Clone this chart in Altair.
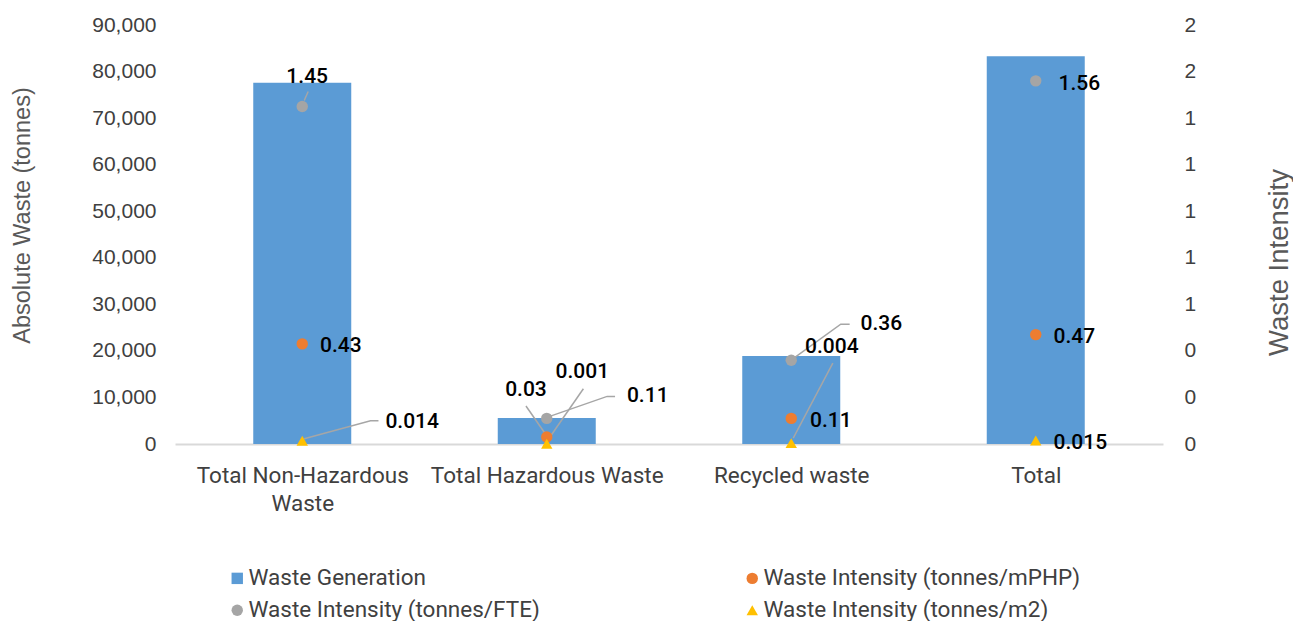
import json
import textwrap

import altair as alt
import pandas as pd

# ---- data -------------------------------------------------------------
categories = ["Total Non-Hazardous Waste", "Total Hazardous Waste", "Recycled waste", "Total"]
waste_generation = [77600, 5600, 18900, 83300]          # tonnes
intensity_mphp = [0.43, 0.03, 0.11, 0.47]               # tonnes / mPHP
intensity_fte = [1.45, 0.11, 0.36, 1.56]                # tonnes / FTE
intensity_m2 = [0.014, 0.001, 0.004, 0.015]             # tonnes / m2

S_GEN = "Waste Generation"
S_MPHP = "Waste Intensity (tonnes/mPHP)"
S_FTE = "Waste Intensity (tonnes/FTE)"
S_M2 = "Waste Intensity (tonnes/m2)"
# legend fills column by column, so this order gives rows Gen|mPHP, FTE|m2
series_order = [S_GEN, S_FTE, S_MPHP, S_M2]
series_colors = ["#5B9BD5", "#A5A5A5", "#ED7D31", "#FFC000"]
series_shapes = ["square", "circle", "circle", "triangle-up"]
series_marker_sizes = [130, 130, 130, 190]

# ---- layout -----------------------------------------------------------
PLOT_W, PLOT_H = 988, 419
X_DOMAIN = [-0.5, 3.5]
TONNE_DOMAIN = [0, 90000]
INTENSITY_DOMAIN = [0, 1.8]
PX_PER_CAT = PLOT_W / (X_DOMAIN[1] - X_DOMAIN[0])
PX_PER_UNIT = PLOT_H / (INTENSITY_DOMAIN[1] - INTENSITY_DOMAIN[0])

FONT = "Roboto"
AXIS_FONT = "Liberation Sans"
TEXT_GREY = "#404040"
TITLE_GREY = "#595959"

# data-label placement: pixel offset of the label from its point, text
# alignment, and an optional leader-line path (pixel offsets from the point)
placement = {
    (S_FTE, 0): (5, -29, "center", [(2, -6), (6, -15)]),
    (S_MPHP, 0): (18, 2, "left", []),
    (S_M2, 0): (84, -19, "left", [(2, -2), (69, -20), (77, -20)]),
    (S_MPHP, 1): (-21, -47, "center", [(-21, -31), (-2, -4)]),
    (S_M2, 1): (36, -72, "center", [(37, -55), (2, -5)]),
    (S_FTE, 1): (81, -22, "left", [(3, -2), (61, -22), (69, -22)]),
    (S_FTE, 2): (70, -36, "left", [(4, -3), (50, -36), (59, -36)]),
    (S_M2, 2): (41, -96, "center", [(42, -80), (2, -5)]),
    (S_MPHP, 2): (19, 3, "left", []),
    (S_FTE, 3): (23, 3, "left", []),
    (S_MPHP, 3): (18, 2, "left", []),
    (S_M2, 3): (18, 2, "left", []),
}

# ---- tables -----------------------------------------------------------
bars_df = pd.DataFrame({
    "idx": list(range(len(categories))),
    "category": categories,
    "tonnes": waste_generation,
    "series": S_GEN,
})

point_rows, label_rows, leader_rows = [], [], []
for name, values in [(S_MPHP, intensity_mphp), (S_FTE, intensity_fte), (S_M2, intensity_m2)]:
    for i, v in enumerate(values):
        point_rows.append({"idx": i, "series": name, "value": v})
        dx, dy, align, path = placement[(name, i)]
        label_rows.append({
            "lx": i + dx / PX_PER_CAT,
            "ly": v - dy / PX_PER_UNIT,
            "text": f"{v:g}",
            "align": align,
        })
        for step, (px, py) in enumerate(path):
            leader_rows.append({
                "leader": f"{name}-{i}",
                "step": step,
                "lx": i + px / PX_PER_CAT,
                "ly": v - py / PX_PER_UNIT,
            })

points_df = pd.DataFrame(point_rows)
labels_df = pd.DataFrame(label_rows)
leaders_df = pd.DataFrame(leader_rows)

# ---- shared encodings -------------------------------------------------
wrapped = [textwrap.wrap(c, 21, break_on_hyphens=False) for c in categories]
x_axis = alt.Axis(
    values=list(range(len(categories))),
    labelExpr=json.dumps(wrapped) + "[datum.value]",
    title=None, ticks=False, grid=False,
    domainColor="#D9D9D9", domainWidth=2,
    labelFont=FONT, labelFontSize=22.5, labelColor=TEXT_GREY, labelPadding=20,
    labelLineHeight=28, labelFlush=False, labelOverlap=False, labelLimit=0,
)
x_scale = alt.Scale(domain=X_DOMAIN, nice=False, zero=False)


def x_enc(field):
    return alt.X(f"{field}:Q", scale=x_scale, axis=x_axis)


intensity_scale = alt.Scale(domain=INTENSITY_DOMAIN, nice=False, zero=True)
intensity_axis = alt.Axis(
    orient="right",
    values=[round(0.2 * k, 1) for k in range(10)],
    format=".0f",
    domain=False, ticks=False, grid=False,
    labelFont=AXIS_FONT, labelFontSize=21, labelColor=TEXT_GREY,
    labelPadding=21, labelAlign="left",
    title="Waste Intensity", titleFont=AXIS_FONT, titleFontSize=27.5,
    titleFontWeight="normal", titleColor=TITLE_GREY, titleAngle=270,
    titleX=116, titleY=237, titleAlign="center", titleBaseline="middle",
)


def y_int(field):
    return alt.Y(f"{field}:Q", scale=intensity_scale, axis=intensity_axis)


legend = alt.Legend(
    title=None, orient="none", legendX=51, legendY=542, columns=2,
    columnPadding=201, rowPadding=9, labelFontSize=22.5, labelColor=TEXT_GREY,
    labelFont=FONT, labelLimit=0, symbolSize=130, symbolStrokeWidth=0, labelOffset=0,
)
color_enc = alt.Color("series:N", scale=alt.Scale(domain=series_order, range=series_colors), legend=legend)
shape_enc = alt.Shape("series:N", scale=alt.Scale(domain=series_order, range=series_shapes), legend=legend)
size_enc = alt.Size("series:N", scale=alt.Scale(domain=series_order, range=series_marker_sizes), legend=None)

# ---- layers -----------------------------------------------------------
bars = alt.Chart(bars_df).mark_bar(size=98).encode(
    x=x_enc("idx"),
    y=alt.Y(
        "tonnes:Q",
        scale=alt.Scale(domain=TONNE_DOMAIN, nice=False),
        axis=alt.Axis(
            values=list(range(0, 90001, 10000)), format=",.0f",
            domain=False, ticks=False, grid=False,
            labelFont=AXIS_FONT, labelFontSize=21, labelColor=TEXT_GREY, labelPadding=19,
            title="Absolute Waste (tonnes)", titleFont=AXIS_FONT, titleFontSize=23.5,
            titleFontWeight="normal", titleColor=TITLE_GREY, titleAngle=270,
            titleX=-153, titleY=190, titleAlign="center", titleBaseline="middle",
        ),
    ),
    color=color_enc,
)

leaders = alt.Chart(leaders_df).mark_line(color="#A6A6A6", strokeWidth=1.5).encode(
    x=x_enc("lx"), y=y_int("ly"), detail="leader:N", order="step:O",
)

points = alt.Chart(points_df).mark_point(filled=True, opacity=1).encode(
    x=x_enc("idx"), y=y_int("value"), color=color_enc, shape=shape_enc, size=size_enc,
)

label_style = dict(baseline="middle", fontSize=21, fontWeight=500, color="#000000", font=FONT)
labels_left = alt.Chart(labels_df).transform_filter("datum.align == 'left'").mark_text(
    align="left", **label_style
).encode(x=x_enc("lx"), y=y_int("ly"), text="text:N")
labels_center = alt.Chart(labels_df).transform_filter("datum.align == 'center'").mark_text(
    align="center", **label_style
).encode(x=x_enc("lx"), y=y_int("ly"), text="text:N")

intensity = alt.layer(leaders, points, labels_left, labels_center)

chart = (
    alt.layer(bars, intensity)
    .resolve_scale(y="independent")
    .properties(
        width=PLOT_W, height=PLOT_H,
        padding={"left": 175, "top": 25, "right": 130, "bottom": 177},
        autosize=alt.AutoSizeParams(type="none"),
        background="white",
    )
    .configure(font=FONT)
    .configure_view(stroke=None)
)

chart.save("out.html", embed_options={"renderer": "svg", "actions": False})
